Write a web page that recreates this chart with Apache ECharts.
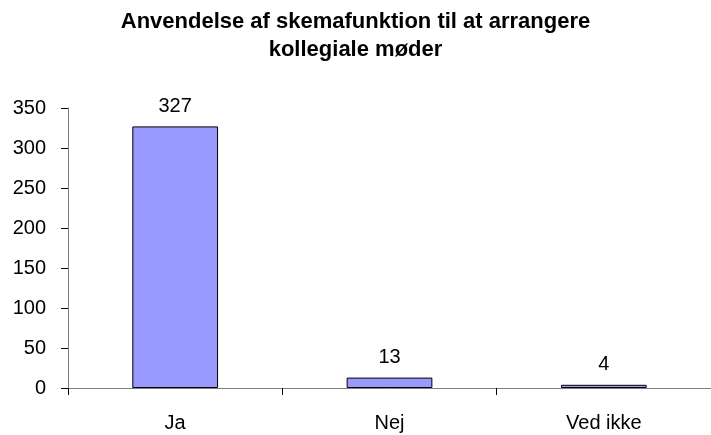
<!DOCTYPE html>
<html>
<head>
<meta charset="utf-8">
<script src="https://cdn.jsdelivr.net/npm/echarts@6/dist/echarts.min.js"></script>
<style>
  html, body { margin: 0; padding: 0; background: #fff; }
  #main { width: 711px; height: 435px; }
</style>
</head>
<body>
<div id="main"></div>
<script>
var categories = ['Ja', 'Nej', 'Ved ikke'];
var values = [327, 13, 4];
var yTicks = [0, 50, 100, 150, 200, 250, 300, 350];

var myChart = echarts.init(document.getElementById('main'));
var font = '"Liberation Sans", Arial, sans-serif';

var option = {
    backgroundColor: '#ffffff',
    animation: false,
    title: {
        text: 'Anvendelse af skemafunktion til at arrangere\nkollegiale møder',
        left: 'center',
        top: 3,
        padding: [5, 5, 5, 15],
        textStyle: {
            fontFamily: font,
            fontSize: 22,
            fontWeight: 'bold',
            color: '#000',
            lineHeight: 28
        }
    },
    grid: {
        left: 68,
        right: -5,
        top: 108,
        bottom: 47
    },
    xAxis: {
        type: 'category',
        data: categories,
        axisLine: { lineStyle: { color: '#808080', width: 1 } },
        axisTick: { show: true, length: 7, lineStyle: { color: '#000' } },
        axisLabel: { margin: 25, color: '#000', fontFamily: font, fontSize: 20 }
    },
    yAxis: {
        type: 'value',
        min: yTicks[0],
        max: yTicks[yTicks.length - 1],
        interval: yTicks[1] - yTicks[0],
        splitLine: { show: false },
        axisLine: { show: true, lineStyle: { color: '#808080', width: 1 } },
        axisTick: { show: true, length: 7, lineStyle: { color: '#000' } },
        axisLabel: { margin: 22, color: '#000', fontFamily: font, fontSize: 20 }
    },
    series: [{
        type: 'bar',
        data: values,
        barWidth: '40%',
        itemStyle: { color: '#9999FF', borderColor: '#000', borderWidth: 1 },
        label: {
            show: true,
            position: 'top',
            distance: 10,
            color: '#000',
            fontFamily: font,
            fontSize: 20
        }
    }]
};

myChart.setOption(option);
</script>
</body>
</html>
